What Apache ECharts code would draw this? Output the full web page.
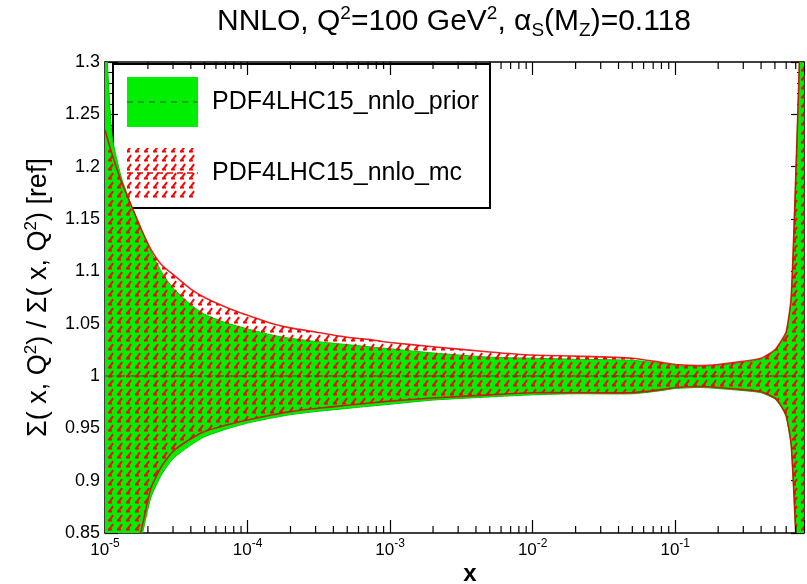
<!DOCTYPE html>
<html><head><meta charset="utf-8">
<script src="https://cdn.jsdelivr.net/npm/echarts@6/dist/echarts.min.js"></script>
<style>html,body{margin:0;padding:0;background:#fff}#c{width:807px;height:584px}</style>
</head><body><div id="c"></div>
<script>
// ---- data ----
const X = [1e-5, 1.12e-5, 1.3e-5, 1.55e-5, 1.8e-5, 2.1e-5, 2.5e-5, 3e-5, 4e-5, 5e-5, 7e-5, 1e-4, 1.5e-4, 2e-4, 3e-4, 5e-4, 7e-4, 1e-3, 2e-3, 5e-3, 1e-2, 2e-2, 5e-2, 0.08, 0.1, 0.15, 0.2, 0.3, 0.4, 0.5, 0.55, 0.6, 0.65, 0.7, 0.75, 0.8];
const PRIOR_UP = [1.34, 1.23, 1.19, 1.161, 1.140, 1.119, 1.099, 1.084, 1.068, 1.059, 1.051, 1.045, 1.039, 1.036, 1.033, 1.030, 1.028, 1.026, 1.022, 1.018, 1.017, 1.016, 1.015, 1.012, 1.010, 1.009, 1.010, 1.013, 1.016, 1.024, 1.032, 1.041, 1.073, 1.19, 1.32, 1.5];
const PRIOR_LO = [0.69, 0.72, 0.76, 0.81, 0.845, 0.884, 0.906, 0.921, 0.934, 0.942, 0.949, 0.955, 0.960, 0.963, 0.966, 0.969, 0.971, 0.973, 0.977, 0.980, 0.982, 0.983, 0.983, 0.986, 0.988, 0.989, 0.988, 0.986, 0.984, 0.978, 0.971, 0.961, 0.933, 0.848, 0.74, 0.59];
const PRIOR_CV = [1, 1, 1, 1, 1, 1, 1, 1, 1, 1, 1, 1, 1, 1, 1, 1, 1, 1, 1, 1, 1, 1, 1, 1, 1, 1, 1, 1, 1, 1, 1, 1, 1, 1, 1, 1];
const MC_UP = [1.235, 1.212, 1.186, 1.161, 1.140, 1.121, 1.106, 1.097, 1.083, 1.075, 1.066, 1.058, 1.050, 1.046, 1.042, 1.037, 1.035, 1.032, 1.028, 1.023, 1.020, 1.019, 1.017, 1.013, 1.011, 1.010, 1.011, 1.014, 1.017, 1.025, 1.033, 1.042, 1.075, 1.19, 1.32, 1.5];
const MC_LO = [0.70, 0.73, 0.77, 0.82, 0.853, 0.893, 0.914, 0.928, 0.940, 0.947, 0.953, 0.958, 0.963, 0.966, 0.969, 0.972, 0.974, 0.976, 0.979, 0.982, 0.984, 0.984, 0.984, 0.987, 0.989, 0.990, 0.989, 0.987, 0.985, 0.979, 0.972, 0.962, 0.935, 0.85, 0.75, 0.6];
const MC_CV = [1, 1, 1, 1, 1, 1, 1, 1, 1, 1, 1, 1, 1, 1, 1, 1, 1, 1, 1, 1, 1, 1, 1, 1, 1, 1, 1, 1, 1, 1, 1, 1, 1, 1, 1, 1];
const SERIES_NAMES = ['PDF4LHC15_nnlo_prior', 'PDF4LHC15_nnlo_mc'];
const X_MIN = 1e-5, X_MAX = 0.8;
const X_TICK_EXP = [-5, -4, -3, -2, -1];
const Y_MIN = 0.85, Y_MAX = 1.3, Y_STEP = 0.05;
const Y_TICK_LABELS = ['0.85', '0.9', '0.95', '1', '1.05', '1.1', '1.15', '1.2', '1.25', '1.3'];

const FONT = 'Liberation Sans, Arial, sans-serif';
const GREEN = '#00ee00';

function hatch() {
  const c = document.createElement('canvas');
  c.width = 9; c.height = 9;
  const g = c.getContext('2d');
  g.strokeStyle = '#ff0000';
  g.lineWidth = 2;
  g.lineCap = 'square';
  g.beginPath(); g.moveTo(1.5, 7); g.lineTo(4.5, 3); g.stroke();
  g.beginPath(); g.moveTo(1, 7.5); g.lineTo(3, 7.5); g.stroke();
  return c;
}
const PATTERN = { image: hatch(), repeat: 'repeat' };

// minor tick positions of the log axis (2..9 in every decade)
const MINOR_X = [];
for (let e = -5; e <= -1; e++) for (let m = 2; m <= 9; m++) { const v = m * Math.pow(10, e); if (v < X_MAX) MINOR_X.push(v); }

function band(up, lo, fill, edge, edgeW, z) {
  return {
    type: 'custom', coordinateSystem: 'cartesian2d', clip: true, silent: true, z: z,
    data: [[X[0], up[0]]],
    renderItem: function (params, api) {
      const top = X.map((x, i) => api.coord([x, up[i]]));
      const bot = X.map((x, i) => api.coord([x, lo[i]]));
      return {
        type: 'group', children: [
          { type: 'polygon', shape: { points: top.concat(bot.slice().reverse()), smooth: 0.2 }, style: { fill: fill, stroke: null } },
          { type: 'polyline', shape: { points: top, smooth: 0.2 }, style: { stroke: edge, lineWidth: edgeW, fill: null } },
          { type: 'polyline', shape: { points: bot, smooth: 0.2 }, style: { stroke: edge, lineWidth: edgeW, fill: null } }
        ]
      };
    }
  };
}

function fmtX(v) {
  const l = Math.log10(v), e = Math.round(l);
  if (Math.abs(l - e) > 1e-6 || X_TICK_EXP.indexOf(e) < 0) return '';
  return '{b|10}{s|' + e + '}';
}
function fmtY(v) {
  const i = Math.round((v - Y_MIN) / Y_STEP);
  return Y_TICK_LABELS[i] !== undefined ? Y_TICK_LABELS[i] : '';
}

const axisLine = { show: true, onZero: false, lineStyle: { color: '#000', width: 1.5 } };
const axisTick = { show: true, inside: true, length: 13, lineStyle: { color: '#000', width: 1.2 } };

const chart = echarts.init(document.getElementById('c'), null, { renderer: 'canvas' });
chart.setOption({
  animation: false,
  backgroundColor: '#fff',
  grid: { left: 105, right: 1, top: 62, bottom: 51, containLabel: false },
  xAxis: [
    { type: 'log', logBase: 10, min: X_MIN, max: X_MAX, position: 'bottom',
      axisLine: axisLine, axisTick: axisTick, splitLine: { show: false }, minorTick: { show: false },
      axisLabel: { margin: 5, formatter: fmtX, fontFamily: FONT, color: '#000',
        rich: { b: { fontSize: 17, fontFamily: FONT, color: '#000' },
                s: { fontSize: 12, fontFamily: FONT, color: '#000', padding: [0, 0, 12, 0] } } } },
    { type: 'log', logBase: 10, min: X_MIN, max: X_MAX, position: 'top',
      axisLine: axisLine, axisTick: axisTick, splitLine: { show: false }, axisLabel: { show: false } }
  ],
  yAxis: [
    { type: 'value', min: Y_MIN, max: Y_MAX, interval: Y_STEP, position: 'left',
      axisLine: axisLine, axisTick: axisTick, splitLine: { show: false },
      minorTick: { show: true, splitNumber: 5, length: 7, lineStyle: { color: '#000', width: 1 } },
      axisLabel: { margin: 5, formatter: fmtY, fontSize: 18, fontFamily: FONT, color: '#000' },
      name: 'Σ( x, Q{sup|2}) / Σ( x, Q{sup|2}) [ref]', nameLocation: 'middle', nameRotate: 90, nameGap: 50,
      nameTextStyle: { fontSize: 27, fontFamily: FONT, color: '#000',
        rich: { sup: { fontSize: 17, fontFamily: FONT, color: '#000', padding: [0, 0, 15, 0] } } } },
    { type: 'value', min: Y_MIN, max: Y_MAX, interval: Y_STEP, position: 'right',
      axisLine: axisLine, axisTick: axisTick, splitLine: { show: false },
      minorTick: { show: true, splitNumber: 5, length: 7, lineStyle: { color: '#000', width: 1 } },
      axisLabel: { show: false } }
  ],
  series: [
    Object.assign(band(PRIOR_UP, PRIOR_LO, GREEN, '#00c800', 1, 2), { name: SERIES_NAMES[0] }),
    Object.assign(band(MC_UP, MC_LO, PATTERN, 'rgba(225,0,0,0.85)', 1.6, 3), { name: SERIES_NAMES[1] }),
    { type: 'line', name: SERIES_NAMES[0] + ' cv', data: X.map((x, i) => [x, PRIOR_CV[i]]), showSymbol: false, silent: true, z: 4,
      lineStyle: { color: '#2f5a2f', width: 1.1, type: [6, 5] } },
    { type: 'line', name: SERIES_NAMES[1] + ' cv', data: X.map((x, i) => [x, MC_CV[i]]), showSymbol: false, silent: true, z: 4,
      lineStyle: { color: '#e00000', width: 1, type: [4, 7], dashOffset: 6 } },
    { type: 'custom', coordinateSystem: 'cartesian2d', silent: true, z: 5, clip: false,
      data: MINOR_X.map(v => [v, Y_MIN]),
      renderItem: function (params, api) {
        const v = api.value(0);
        const b = api.coord([v, Y_MIN]), t = api.coord([v, Y_MAX]);
        const st = { stroke: '#000', lineWidth: 1.2 };
        return { type: 'group', children: [
          { type: 'line', shape: { x1: b[0], y1: b[1], x2: b[0], y2: b[1] - 7 }, style: st },
          { type: 'line', shape: { x1: t[0], y1: t[1], x2: t[0], y2: t[1] + 7 }, style: st }
        ] };
      } }
  ],
  graphic: [
    { type: 'text', x: 454, y: 22, z: 100,
      style: { text: 'NNLO, Q{sup|2}=100 GeV{sup|2}, α{sub|S}(M{sub|Z})=0.118', align: 'center', verticalAlign: 'middle',
        fontSize: 30, fontFamily: FONT, fill: '#000',
        rich: { sup: { fontSize: 19, fontFamily: FONT, fill: '#000', padding: [0, 0, 17, 0] },
                sub: { fontSize: 19, fontFamily: FONT, fill: '#000', padding: [17, 0, 0, 0] } } } },
    { type: 'text', x: 470, y: 574, z: 100,
      style: { text: 'x', align: 'center', verticalAlign: 'middle', fontSize: 24, fontWeight: 'bold', fontFamily: FONT, fill: '#000' } },
    { type: 'group', z: 100, children: [
      { type: 'rect', shape: { x: 113, y: 64, width: 377, height: 144 }, style: { fill: '#fff', stroke: '#000', lineWidth: 2 } },
      { type: 'rect', shape: { x: 127, y: 77, width: 71, height: 50 }, style: { fill: GREEN } },
      { type: 'line', shape: { x1: 127, y1: 102, x2: 198, y2: 102 }, style: { stroke: '#2f5a2f', lineWidth: 1.1, lineDash: [6, 5] } },
      { type: 'text', x: 212, y: 102, style: { text: SERIES_NAMES[0], verticalAlign: 'middle', fontSize: 25, fontFamily: FONT, fill: '#000' } },
      { type: 'rect', shape: { x: 127, y: 148, width: 71, height: 50 }, style: { fill: PATTERN } },
      { type: 'line', shape: { x1: 127, y1: 173, x2: 198, y2: 173 }, style: { stroke: '#e00000', lineWidth: 1.5, lineDash: [6, 4] } },
      { type: 'text', x: 212, y: 173, style: { text: SERIES_NAMES[1], verticalAlign: 'middle', fontSize: 25, fontFamily: FONT, fill: '#000' } }
    ] }
  ]
});
</script></body></html>
